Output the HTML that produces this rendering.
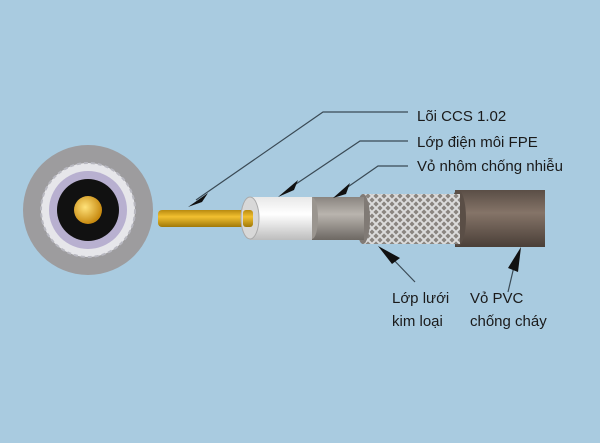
<!DOCTYPE html>
<html><head><meta charset="utf-8"><style>
html,body{margin:0;padding:0}
body{width:600px;height:443px;background:#a9cbe0;overflow:hidden;position:relative}
svg{position:absolute;left:0;top:0}
text{font-family:"Liberation Sans","DejaVu Sans",sans-serif;font-size:15px;fill:#1a1a1a}
</style></head><body>
<svg width="600" height="443" viewBox="0 0 600 443">
<defs>
<linearGradient id="w" x1="0" y1="0" x2="0" y2="1"><stop offset="0" stop-color="#e8e8e8"/><stop offset=".4" stop-color="#ffffff"/><stop offset="1" stop-color="#bdbdbd"/></linearGradient>
<linearGradient id="g" x1="0" y1="0" x2="0" y2="1"><stop offset="0" stop-color="#8a8580"/><stop offset=".4" stop-color="#b9b4ae"/><stop offset="1" stop-color="#6d6863"/></linearGradient>
<linearGradient id="b" x1="0" y1="0" x2="0" y2="1"><stop offset="0" stop-color="#5a4e46"/><stop offset=".4" stop-color="#857468"/><stop offset="1" stop-color="#4a3f38"/></linearGradient>
<linearGradient id="y" x1="0" y1="0" x2="0" y2="1"><stop offset="0" stop-color="#b88a10"/><stop offset=".4" stop-color="#f2c030"/><stop offset="1" stop-color="#a07808"/></linearGradient>
<pattern id="br" width="8" height="8" patternUnits="userSpaceOnUse"><rect width="8" height="8" fill="#8a8580"/><path d="M0 8L8 0M0 0L8 8" stroke="#dcdcdc" stroke-width="2"/></pattern>
<radialGradient id="c" cx=".4" cy=".4" r=".6"><stop offset="0" stop-color="#ffe27a"/><stop offset="1" stop-color="#c88a10"/></radialGradient>
</defs>
<circle cx="88" cy="210" r="65" fill="#9d9c9e"/>
<circle cx="88" cy="210" r="47" fill="#e6e6ea" stroke="#b8b8c0" stroke-width="2" stroke-dasharray="4 3"/>
<circle cx="88" cy="210" r="39" fill="#b8b0d0"/>
<circle cx="88" cy="210" r="31" fill="#111"/>
<circle cx="88" cy="210" r="14" fill="url(#c)"/>
<rect x="158" y="210" width="100" height="17" rx="4" fill="url(#y)"/>
<rect x="455" y="190" width="90" height="57" fill="url(#b)"/>
<ellipse cx="458" cy="218" rx="8" ry="28" fill="#5a4e46"/>
<rect x="362" y="194" width="98" height="50" fill="url(#br)"/>
<ellipse cx="363" cy="219" rx="7" ry="25" fill="#807a75"/>
<rect x="312" y="197" width="52" height="43" fill="url(#g)"/>
<ellipse cx="312" cy="218" rx="6" ry="21" fill="#9a958f"/>
<path d="M318 238 L300 262 L312 246 Z" fill="#e0e0e0"/>
<rect x="250" y="197" width="62" height="43" fill="url(#w)"/>
<ellipse cx="250" cy="218" rx="9" ry="21" fill="#d8d8d8" stroke="#aaa" stroke-width="1"/>
<rect x="243" y="210" width="10" height="17" rx="3" fill="url(#y)"/>
<g stroke="#3a4a55" stroke-width="1.2" fill="none">
<path d="M408 112 L323 112 L196 200"/>
<path d="M408 141 L360 141 L290 188"/>
<path d="M408 166 L378 166 L342 191"/>
<path d="M390 256 L415 282"/>
<path d="M516 258 L508 292"/>
</g>
<g fill="#111">
<path d="M188 207 L208 193 L202 202 Z"/>
<path d="M278 197 L298 180 L294 190 Z"/>
<path d="M333 198 L350 183 L346 194 Z"/>
<path d="M378 246 L400 258 L392 264 Z"/>
<path d="M521 247 L518 272 L508 268 Z"/>
</g>
<text x="417" y="121">Lõi CCS 1.02</text>
<text x="417" y="147">Lớp điện môi FPE</text>
<text x="417" y="171">Vỏ nhôm chống nhiễu</text>
<text x="392" y="303">Lớp lưới</text>
<text x="392" y="326">kim loại</text>
<text x="470" y="303">Vỏ PVC</text>
<text x="470" y="326">chống cháy</text>
</svg>
</body></html>
